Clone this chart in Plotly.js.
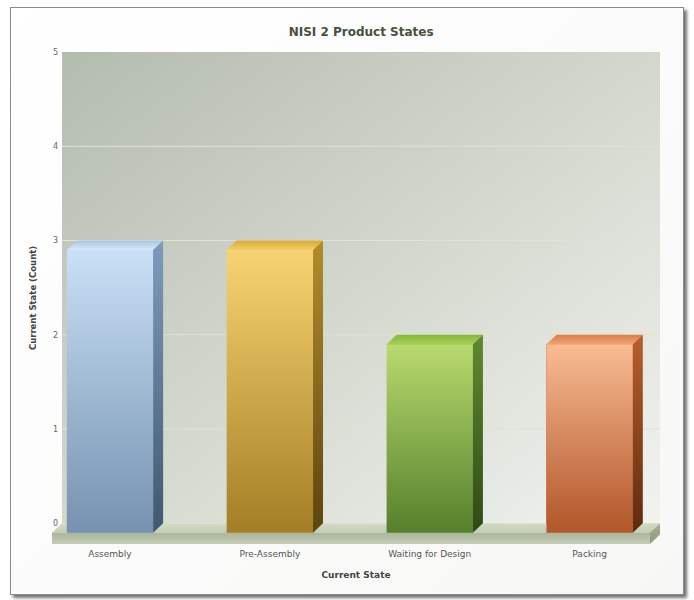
<!DOCTYPE html>
<html>
<head>
<meta charset="utf-8">
<script src="https://cdn.plot.ly/plotly-3.0.1.min.js"></script>
<style>
  html, body { margin: 0; padding: 0; background: #ffffff; width: 694px; height: 600px; overflow: hidden; }
  #frame { position: absolute; left: 10px; top: 7px; width: 672px; height: 586px;
           border: 1px solid #8a8a8a; box-shadow: 3px 3px 3px rgba(0,0,0,0.55);
           background: linear-gradient(135deg, #ffffff 0%, #f7f8f6 100%); }
  #chart { width: 672px; height: 586px; }
</style>
</head>
<body>
<div id="frame"><div id="chart"></div></div>
<script>
// ---- data ----
const categories = ['Assembly', 'Pre-Assembly', 'Waiting for Design', 'Packing'];
const counts = [3, 3, 2, 2];
const yTicks = [0, 1, 2, 3, 4, 5];
const chartTitle = 'NISI 2 Product States';
const xTitle = 'Current State';
const yTitle = 'Current State (Count)';

// ---- style ----
const frontTop    = ['#c9e0f6', '#f7d473', '#b9da6e', '#f9bc92'];
const frontBottom = ['#7592b0', '#a47e24', '#55802c', '#b2552a'];
const topFront    = ['#d6e8fa', '#f2cf66', '#a6cf52', '#f0a070'];
const topBack     = ['#a9c6e4', '#d8ab38', '#86b53a', '#d9804a'];
const sideTop     = ['#7d9cbc', '#b48c2a', '#5f8a2e', '#b8602c'];
const sideBottom  = ['#3f5870', '#5c4410', '#2e4a16', '#5e2a0e'];
const barMid      = ['#9fb9d3', '#cda94b', '#86ad4d', '#d6885e'];

const W = 0.54;      // bar front width (category units)
const DX = 0.0625;   // 3D depth, x
const D = 0.1;       // 3D depth, y
const T = 0.12;      // floor slab thickness
const X0 = -0.3, X1 = 3.44; // back wall extent
const idx = categories.map((c, i) => i);

const traces = [];
// real bars (front faces)
traces.push({
  type: 'bar', x: idx, y: counts, base: counts.map(() => -D), width: W,
  marker: { color: barMid, line: { width: 0 } },
  hoverinfo: 'skip', showlegend: false
});

function poly(xs, ys, c0, c1, dir) {
  return {
    type: 'scatter', mode: 'lines', x: xs, y: ys, fill: 'toself',
    fillgradient: { type: dir || 'vertical', colorscale: [[0, c0], [1, c1]] },
    line: { width: 0 }, hoverinfo: 'skip', showlegend: false
  };
}

// floor slab (drawn as filled polygons under the bars)
traces.push(poly([X0 - DX, X1 - DX, X1, X0, X0 - DX], [-D, -D, 0, 0, -D], '#c2ccb3', '#d3dbc6'));
traces.push(poly([X0 - DX, X1 - DX, X1 - DX, X0 - DX, X0 - DX], [-D - T, -D - T, -D, -D, -D - T], '#c4ceb6', '#a9b59a'));
traces.push(poly([X1 - DX, X1, X1, X1 - DX, X1 - DX], [-D - T, -T, 0, -D, -D - T], '#8c9a7f', '#a4b096'));

counts.forEach((v, i) => {
  const a = i - W / 2, b = i + W / 2;
  traces.push(poly([a, b, b, a, a], [-D, -D, v - D, v - D, -D], frontBottom[i], frontTop[i]));
  traces.push(poly([a, b, b + DX, a + DX, a], [v - D, v - D, v, v, v - D], topFront[i], topBack[i]));
  traces.push(poly([b, b, b + DX, b + DX, b], [-D, v - D, v, 0, -D], sideBottom[i], sideTop[i]));
});

const wallSvg = 'data:image/svg+xml;utf8,' + encodeURIComponent(
  '<svg xmlns="http://www.w3.org/2000/svg" width="400" height="400" preserveAspectRatio="none">' +
  '<defs><linearGradient id="g" x1="0" y1="0" x2="1" y2="1">' +
  '<stop offset="0" stop-color="#b4bbaf"/><stop offset="0.5" stop-color="#d3d8ce"/>' +
  '<stop offset="1" stop-color="#f1f3ef"/></linearGradient></defs>' +
  '<rect width="400" height="400" fill="url(#g)"/></svg>');

const shapes = [];
yTicks.filter(t => t > 0 && t < 5).forEach(t => {
  shapes.push({ type: 'line', xref: 'x', yref: 'y', x0: X0, x1: X1, y0: t, y1: t,
    line: { color: '#dde5cc', width: 1 }, layer: 'between' });
});

const layout = {
  width: 672, height: 586,
  margin: { l: 41, r: 23, t: 44, b: 50 },
  paper_bgcolor: 'rgba(0,0,0,0)', plot_bgcolor: 'rgba(0,0,0,0)',
  font: { family: 'DejaVu Sans, Verdana, sans-serif', color: '#555555', size: 9 },
  title: { text: chartTitle, font: { family: 'DejaVu Sans, sans-serif', size: 12, color: '#46523f', weight: 'bold' },
    x: 0.521, xref: 'container', y: 0.959, yref: 'container', yanchor: 'middle' },
  showlegend: false,
  bargap: 0,
  xaxis: {
    range: [X0 - DX, X1], tickmode: 'array', tickvals: idx, ticktext: categories,
    showgrid: false, zeroline: false, showline: false, ticks: '', fixedrange: true,
    tickfont: { size: 9, color: '#555555' }, ticklabelstandoff: 3,
    title: { text: xTitle, font: { size: 9, color: '#444444', weight: 'bold' }, standoff: 13 }
  },
  yaxis: {
    range: [-D - T, 5], tickmode: 'array', tickvals: yTicks, ticktext: yTicks.map(String),
    showgrid: false, zeroline: false, showline: false, ticks: '', fixedrange: true,
    ticklabelposition: 'inside', ticklabeloverflow: 'allow', ticklabelstandoff: -2,
    tickfont: { size: 8, color: '#666666' },
    title: { text: yTitle, font: { size: 8.5, color: '#444444', weight: 'bold' }, standoff: 15 }
  },
  images: [{ source: wallSvg, xref: 'x', yref: 'y', x: X0, y: 5, sizex: X1 - X0, sizey: 5,
    xanchor: 'left', yanchor: 'top', sizing: 'stretch', layer: 'below' }],
  shapes: shapes
};

Plotly.newPlot('chart', traces, layout, { displayModeBar: false, staticPlot: true });
</script>
</body>
</html>
